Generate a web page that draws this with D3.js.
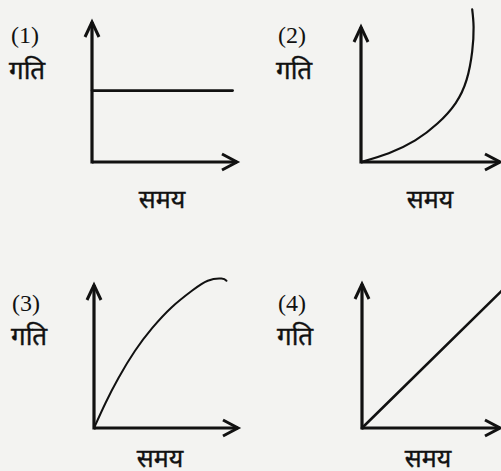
<!DOCTYPE html>
<html><head><meta charset="utf-8">
<script src="https://cdn.jsdelivr.net/npm/d3@7"></script>
<style>
html,body{margin:0;padding:0;background:#f3f3f1;}
svg{display:block;}
</style></head>
<body>
<script>
// Data (time, speed) for each graph, domain 0..10
const panelLabels = ["(1)", "(2)", "(3)", "(4)"];
const yLabel = "गति";
const xLabel = "समय";
const time1 = [0, 9.7];
const speed1 = [5.1, 5.1];
const time2 = [0, 2.0, 3.9, 5.5, 6.8, 7.6, 8.0, 8.1, 8.0];
const speed2 = [0, 0.65, 1.6, 2.85, 4.35, 6.1, 8.2, 10.0, 11.3];
const time3 = [0, 0.8, 1.7, 2.85, 4.05, 5.4, 6.8, 7.9, 8.85, 9.2];
const speed3 = [0, 1.75, 3.5, 5.4, 7.0, 8.45, 9.6, 10.3, 10.45, 10.3];
const time4 = [0, 10.2];
const speed4 = [0, 9.6];

const W = 501, H = 471;
const svg = d3.select("body").append("svg").attr("width", W).attr("height", H);
svg.append("rect").attr("width", W).attr("height", H).attr("fill", "#f3f3f1");

const panels = [
  {ox: 92, oy: 162, xEnd: 237, yEnd: 22, t: time1, s: speed1, curve: d3.curveLinear, lw: 2.6,
   lab: [11, 43], ylab: [9, 79], xlab: [162, 208]},
  {ox: 361, oy: 162, xEnd: 500, yEnd: 27, t: time2, s: speed2, curve: d3.curveNatural, lw: 2.2,
   lab: [278, 43], ylab: [276, 79], xlab: [430, 208]},
  {ox: 94, oy: 428, xEnd: 238, yEnd: 285, t: time3, s: speed3, curve: d3.curveNatural, lw: 2.0,
   lab: [12, 311], ylab: [11, 345], xlab: [160, 467]},
  {ox: 362, oy: 428, xEnd: 500, yEnd: 284, t: time4, s: speed4, curve: d3.curveLinear, lw: 2.6,
   lab: [278, 311], ylab: [277, 345], xlab: [428, 467]}
];

const ink = "#111";
const devFont = "Noto Sans Devanagari, Noto Serif Devanagari, Lohit Devanagari, Noto Sans, sans-serif";
panels.forEach((p, i) => {
  const g = svg.append("g");
  const x = d3.scaleLinear().domain([0, 10]).range([p.ox, p.xEnd]);
  const y = d3.scaleLinear().domain([0, 10]).range([p.oy, p.yEnd]);
  // axes
  g.append("line").attr("x1", x(0)).attr("y1", y(0)).attr("x2", x(10)).attr("y2", y(0))
    .attr("stroke", ink).attr("stroke-width", 3.2);
  g.append("line").attr("x1", x(0)).attr("y1", y(0) + 1.5).attr("x2", x(0)).attr("y2", y(10))
    .attr("stroke", ink).attr("stroke-width", 3.2);
  // arrow heads
  const xe = x(10), ye = y(0);
  g.append("path").attr("d", `M${xe-15},${ye-8} L${xe},${ye} L${xe-15},${ye+8}`)
    .attr("fill", "none").attr("stroke", ink).attr("stroke-width", 3).attr("stroke-linejoin", "miter");
  const xa = x(0), ya = y(10);
  g.append("path").attr("d", `M${xa-7},${ya+15} L${xa},${ya} L${xa+7},${ya+15}`)
    .attr("fill", "none").attr("stroke", ink).attr("stroke-width", 3).attr("stroke-linejoin", "miter");
  // series
  const pts = p.t.map((t, k) => [t, p.s[k]]);
  const line = d3.line().x(d => x(d[0])).y(d => y(d[1])).curve(p.curve);
  g.append("path").attr("d", line(pts)).attr("fill", "none").attr("stroke", ink)
    .attr("stroke-width", p.lw).attr("stroke-linecap", "round");
  // labels
  g.append("text").attr("x", p.lab[0]).attr("y", p.lab[1]).text(panelLabels[i])
    .attr("font-family", "Liberation Serif, DejaVu Serif, serif").attr("font-size", 24).attr("fill", ink);
  g.append("text").attr("x", p.ylab[0]).attr("y", p.ylab[1]).text(yLabel)
    .attr("font-family", devFont).attr("font-size", 26).attr("fill", ink)
    .attr("stroke", ink).attr("stroke-width", 0.4);
  g.append("text").attr("x", p.xlab[0]).attr("y", p.xlab[1]).text(xLabel).attr("text-anchor", "middle")
    .attr("font-family", devFont).attr("font-size", 25).attr("fill", ink)
    .attr("stroke", ink).attr("stroke-width", 0.4);
});
</script>
</body></html>
